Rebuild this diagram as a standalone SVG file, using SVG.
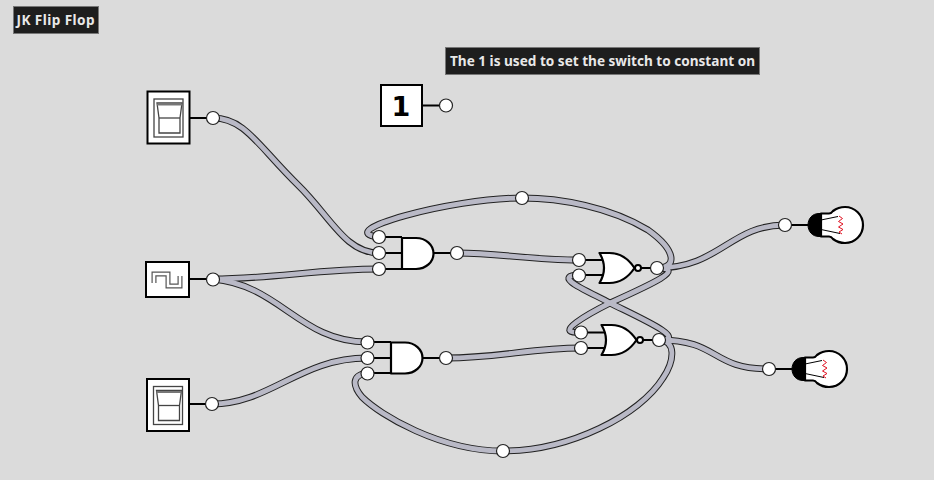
<svg xmlns="http://www.w3.org/2000/svg" xmlns:xlink="http://www.w3.org/1999/xlink" width="934" height="480" viewBox="0 0 934 480">
<style>
.bg{fill:#dbdbdb}
.box{fill:#fff;stroke:#000;stroke-width:2}
.gate{fill:#fff;stroke:#000;stroke-width:2.2;stroke-linejoin:round}
.stub{fill:none;stroke:#000;stroke-width:2}
.port{fill:#fff;stroke:#222;stroke-width:1.2}
.wo{fill:none;stroke:#222;stroke-width:6.800}
.wi{fill:none;stroke:#b9b9c6;stroke-width:4.800}
.thin{fill:none;stroke:#444;stroke-width:1.3}
.lbl{fill:#1e1e1e;stroke:#777;stroke-width:1}
.ltx{fill:#e8e8e8;font-family:"Noto Sans","Open Sans",sans-serif;font-weight:700;font-size:13.6px}
.one{fill:#000;font-family:"DejaVu Sans",sans-serif;font-weight:700;font-size:27px;text-anchor:middle}
.fil{fill:none;stroke:#e01020;stroke-width:1}
</style>
<defs>
<g id="sw"><rect class="box" x="0" y="0" width="42" height="52"/><rect class="thin" x="6.500" y="7.500" width="29" height="38"/><path class="thin" d="M9.500 11.500H34.500L32.500 26.500V41.500H11.500V26.500Z"/><path class="thin" d="M11.500 26.500H32.500"/><path d="M9.500 13H34.500" stroke="#777" stroke-width="2"/></g>
<g id="bulb"><path class="gate" d="M25 -11.500H33C35 -11.500 36 -12.500 37 -14C41 -17 45 -18 49 -18C59 -18 67 -10 67 0C67 10 59 18 49 18C45 18 41 17 37 14C36 12.500 35 11.500 33 11.500H25Z"/><path d="M25 -11.500H23C16 -11.500 12 -6 12 0C12 6 16 11.500 23 11.500H25Z" fill="#000" stroke="#000" stroke-width="1"/><path d="M25 -5L42 -8.500M25 4.500L44 8.500" fill="none" stroke="#000" stroke-width="1"/><path class="fil" d="M43 -9L46.500 -6.500L42.500 -3.500L47 -1L42.500 2L47 4.500L43 7L46 9"/></g>
<path id="nor" class="gate" d="M0 0H10C21 0 29 6 35 15C29 24 21 30 10 30H0C6 20 6 10 0 0Z"/>
<path id="and" class="gate" d="M0 0H14C24 0 31.500 7 31.500 15.500C31.500 24 24 31 14 31H0Z"/>
</defs>
<rect class="bg" width="934" height="480"/>

<g id="connectors">
<g class="wo">
<path id="w1" d="M213 118C245 118 258 146 298 185C330 216 345 253 379 253"/>
<path id="w2" d="M213 279C270 279 320 269 379 269"/>
<path id="w3" d="M213 279C280 285 300 342 367 342"/>
<path id="w4" d="M212 404C270 404 300 358 367 358"/>
<path id="w5" d="M457 253C500 253 530 260 579 260"/>
<path id="w6" d="M446 358C500 358 530 348 581 348"/>
<path id="w7" d="M657 268C678 268 676 250 648 230C610 207 560 198 522 198C450 198 330 232 379 237"/>
<path id="w8" d="M659 340C676 340 675 360 663 378C640 415 570 451 503 451C440 451 380 415 362 397C352 385 352 375 367 373"/>
<path id="w9" d="M657 268C688 268 650 285 610 303C590 313 550 335 581 332"/>
<path id="w10" d="M659 340C690 340 640 318 610 303C590 292 550 276 579 275"/>
<path id="w11" d="M657 268C720 268 730 225 785 225"/>
<path id="w12" d="M659 340C720 340 710 369 769 369"/>
</g>
<g class="wi">
<use xlink:href="#w1"/><use xlink:href="#w2"/><use xlink:href="#w3"/><use xlink:href="#w4"/><use xlink:href="#w5"/><use xlink:href="#w6"/><use xlink:href="#w7"/><use xlink:href="#w8"/><use xlink:href="#w9"/><use xlink:href="#w10"/><use xlink:href="#w11"/><use xlink:href="#w12"/>
</g>
<circle class="port" cx="522" cy="198" r="6.500"/>
<circle class="port" cx="503" cy="451" r="6.500"/>
</g>

<g id="label-title"><rect class="lbl" x="13.500" y="6.500" width="85" height="27"/><text class="ltx" x="16.500" y="25" textLength="78">JK Flip Flop</text></g>
<g id="label-note"><rect class="lbl" x="445.500" y="47.500" width="314" height="27"/><text class="ltx" x="450" y="66" textLength="305">The 1 is used to set the switch to constant on</text></g>

<g id="switch-j"><path class="stub" d="M189 118H213"/><use xlink:href="#sw" x="147.500" y="91.500"/><circle class="port" cx="213" cy="118" r="6.500"/></g>
<g id="clock"><path class="stub" d="M189 279H213"/><rect class="box" x="146" y="262" width="43" height="35"/><path d="M154 283V274H168V286H180V276" fill="none" stroke="#555" stroke-width="5"/><path d="M154 283V274H168V286H180V276" fill="none" stroke="#fff" stroke-width="2.600"/><circle class="port" cx="213" cy="279.500" r="6.500"/></g>
<g id="switch-k"><path class="stub" d="M189 404H212"/><use xlink:href="#sw" x="147" y="379"/><circle class="port" cx="212" cy="404" r="6.500"/></g>
<g id="const-1"><path class="stub" d="M422 105.500H446"/><rect class="box" x="381" y="85" width="41" height="41"/><text class="one" x="401" y="115.500">1</text><circle class="port" cx="446" cy="105.500" r="6.500"/></g>

<g id="and-top"><path class="stub" d="M379 237H402M379 253H402M379 269H402M434 253H457"/><use xlink:href="#and" x="402" y="238"/><circle class="port" cx="379" cy="237" r="6.500"/><circle class="port" cx="379" cy="253" r="6.500"/><circle class="port" cx="379" cy="269" r="6.500"/><circle class="port" cx="457" cy="253" r="6.500"/></g>
<g id="and-bottom"><path class="stub" d="M367 342H391M367 358H391M367 373H391M422 358H446"/><use xlink:href="#and" x="391" y="342.500"/><circle class="port" cx="367.500" cy="342.500" r="6.500"/><circle class="port" cx="367.500" cy="358" r="6.500"/><circle class="port" cx="367.500" cy="373.500" r="6.500"/><circle class="port" cx="446" cy="358" r="6.500"/></g>

<g id="nor-top"><path class="stub" d="M579 260H604M579 275H604M641 268H657"/><use xlink:href="#nor" x="599.500" y="253"/><circle cx="638" cy="268" r="3" fill="#fff" stroke="#000" stroke-width="2"/><circle class="port" cx="579" cy="260" r="6.500"/><circle class="port" cx="579" cy="275.500" r="6.500"/><circle class="port" cx="657" cy="268" r="6.500"/></g>
<g id="nor-bottom"><path class="stub" d="M581 332.500H606M581 348H606M643 340H659"/><use xlink:href="#nor" x="601.500" y="325"/><circle cx="640" cy="340" r="3" fill="#fff" stroke="#000" stroke-width="2"/><circle class="port" cx="581" cy="332.500" r="6.500"/><circle class="port" cx="581" cy="348" r="6.500"/><circle class="port" cx="659" cy="340" r="6.500"/></g>

<g id="lamp-q"><path class="stub" d="M785 225H808"/><use xlink:href="#bulb" x="796" y="225"/><circle class="port" cx="785" cy="225" r="6.500"/></g>
<g id="lamp-nq"><path class="stub" d="M769 369H792"/><use xlink:href="#bulb" x="780" y="369"/><circle class="port" cx="769" cy="369" r="6.500"/></g>
</svg>
